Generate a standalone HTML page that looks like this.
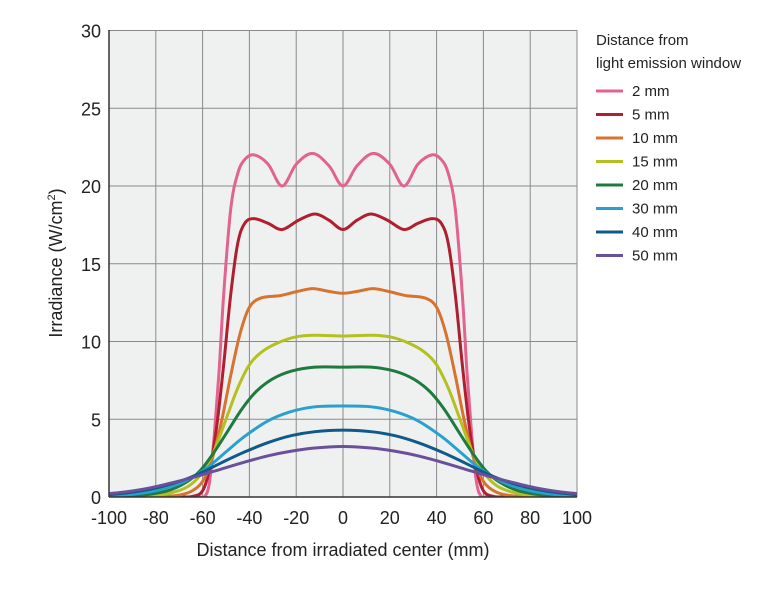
<!DOCTYPE html>
<html><head><meta charset="utf-8"><style>
body{margin:0;background:#fff;}
svg{display:block;font-family:"Liberation Sans",sans-serif;}
</style></head><body>
<svg id="s" width="781" height="600" xmlns="http://www.w3.org/2000/svg">
<rect x="109" y="30" width="468" height="467" fill="#eff1f1"/>
<g id="grid" stroke="#8a8a8a" stroke-width="1"></g>
<defs><clipPath id="cp"><rect x="109" y="30" width="468" height="467"/></clipPath></defs>
<g id="curves" clip-path="url(#cp)" fill="none" stroke-width="3" stroke-linejoin="round"></g>
<line x1="109" y1="30" x2="109" y2="497" stroke="#333" stroke-width="1.5"/>
<line x1="109" y1="497" x2="577" y2="497" stroke="#333" stroke-width="1.5"/>
<g id="labels" font-size="18" fill="#222"></g>
<text x="343" y="556" font-size="18" text-anchor="middle" fill="#222">Distance from irradiated center (mm)</text>
<text transform="translate(62,263) rotate(-90)" font-size="18" text-anchor="middle" fill="#222">Irradiance (W/cm<tspan font-size="11" dy="-7">2</tspan><tspan dy="7">)</tspan></text>
<g font-size="15" fill="#222">
<text x="596" y="45">Distance from</text>
<text x="596" y="68">light emission window</text>
</g>
<g id="legend" font-size="15" fill="#222"></g>
</svg>
<script>
var X=function(x){return 343+x*2.34;},Y=function(v){return 497-v*15.55;};
var g=document.getElementById('grid'),L=document.getElementById('labels'),ns='http://www.w3.org/2000/svg';
function el(p,t,a,txt){var e=document.createElementNS(ns,t);for(var k in a)e.setAttribute(k,a[k]);if(txt!=null)e.textContent=txt;p.appendChild(e);return e;}
for(var v=5;v<=30;v+=5)el(g,'line',{x1:109,x2:577,y1:Y(v),y2:Y(v)});
for(var x=-80;x<=100;x+=20)el(g,'line',{x1:X(x),x2:X(x),y1:30,y2:497});
for(var v=0;v<=30;v+=5)el(L,'text',{x:101,y:Y(v)+7,'text-anchor':'end'},v);
for(var x=-100;x<=100;x+=20)el(L,'text',{x:X(x),y:524,'text-anchor':'middle'},x);
var data=[
['#e2638f','2 mm',[[0,20.0],[6,21.3],[13,22.1],[20,21.4],[26,20.0],[32,21.4],[38,22.0],[42,21.7],[45,20.8],[48,18.5],[51,13],[53,8],[55,4],[57,1],[59,0.05],[62,0],[100,0]]],
['#b01f2f','5 mm',[[0,17.2],[6,17.8],[12,18.2],[19,17.8],[26,17.2],[32,17.6],[38,17.9],[42,17.6],[45,16.3],[48,13],[51,8.5],[54,4.5],[57,1.8],[60,0.4],[64,0.05],[70,0],[100,0]]],
['#d8722f','10 mm',[[0,13.1],[7,13.25],[13,13.4],[20,13.2],[27,12.95],[35,12.8],[40,12.2],[44,10.5],[48,7.8],[52,4.8],[56,2.4],[60,1.0],[65,0.35],[72,0.08],[85,0],[100,0]]],
['#b3c01f','15 mm',[[0,10.35],[12,10.4],[20,10.3],[28,9.9],[35,9.3],[40,8.5],[45,7.0],[50,5.0],[55,3.0],[60,1.6],[66,0.7],[74,0.25],[85,0.05],[100,0]]],
['#1e7a3f','20 mm',[[0,8.35],[12,8.35],[22,8.1],[30,7.6],[37,6.8],[43,5.7],[49,4.3],[55,2.9],[61,1.7],[67,0.95],[75,0.4],[87,0.1],[100,0.03]]],
['#2aa0cf','30 mm',[[0,5.85],[12,5.8],[22,5.5],[32,4.9],[42,3.9],[50,2.9],[57,2.0],[63,1.4],[70,0.85],[80,0.4],[90,0.18],[100,0.08]]],
['#0e5a8a','40 mm',[[0,4.3],[12,4.2],[22,3.95],[32,3.5],[42,2.9],[52,2.2],[60,1.6],[68,1.1],[78,0.65],[88,0.35],[100,0.15]]],
['#6a4f9a','50 mm',[[0,3.25],[12,3.15],[22,2.95],[32,2.65],[42,2.25],[52,1.8],[62,1.35],[72,0.95],[82,0.6],[92,0.35],[100,0.22]]]
];
var C=document.getElementById('curves'),LG=document.getElementById('legend');
data.forEach(function(d,i){
 var r=d[2],pts=[];
 for(var j=r.length-1;j>0;j--)pts.push([-r[j][0],r[j][1]]);
 r.forEach(function(p){pts.push(p);});
 pts=pts.map(function(p){return [X(p[0]),Y(p[1])];});
 var s='M'+pts[0][0]+','+pts[0][1];
 for(var k=0;k<pts.length-1;k++){
  var p0=pts[Math.max(k-1,0)],p1=pts[k],p2=pts[k+1],p3=pts[Math.min(k+2,pts.length-1)];
  var c1=[p1[0]+(p2[0]-p0[0])/6,p1[1]+(p2[1]-p0[1])/6],c2=[p2[0]-(p3[0]-p1[0])/6,p2[1]-(p3[1]-p1[1])/6];
  s+='C'+c1+' '+c2+' '+p2;
 }
 el(C,'path',{d:s,stroke:d[0]});
 var y=91+i*23.5;
 el(LG,'line',{x1:596,x2:623,y1:y,y2:y,stroke:d[0],'stroke-width':3});
 el(LG,'text',{x:632,y:y+5},d[1]);
});
</script>
</body></html>
